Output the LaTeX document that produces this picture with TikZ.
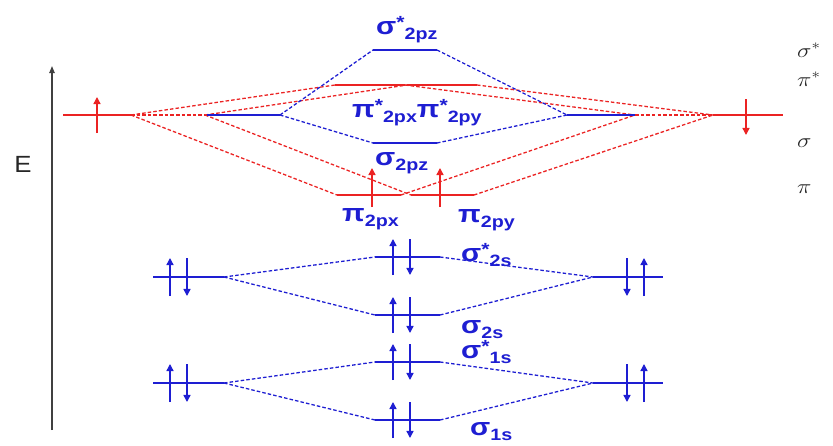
\documentclass[tikz,border=0pt]{standalone}
\usepackage{fontspec}
\setmainfont{Liberation Sans}
\usetikzlibrary{arrows.meta}
\definecolor{moblue}{RGB}{30,30,210}
\definecolor{mored}{RGB}{235,35,35}
\newcommand{\orb}[3]{\scalebox{1.2}[1]{{\fontsize{21}{21}\selectfont #1}\raisebox{5pt}{\fontsize{15}{15}\selectfont #2}\raisebox{-5pt}{\fontsize{14}{14}\selectfont #3}}}
\newcommand{\updown}[3]{\draw[spin] (#1,#2+#3) -- (#1,#2-#3); \draw[spin] (#1+17,#2-#3) -- (#1+17,#2+#3);}
\newcommand{\downup}[3]{\draw[spin] (#1,#2-#3) -- (#1,#2+#3); \draw[spin] (#1+17,#2+#3) -- (#1+17,#2-#3);}
\tikzset{
  level/.style={line width=1.3pt},
  cnx/.style={line width=1.1pt, dash pattern=on 3pt off 1.8pt},
  spin/.style={line width=1.2pt, -{Triangle[length=6pt,width=6pt]}},
  molab/.style={anchor=base west, inner sep=0pt, text=moblue, font=\bfseries},
  side/.style={anchor=base west, inner sep=0pt, text=black!85}
}
\begin{document}
\begin{tikzpicture}[x=0.03cm,y=-0.03cm]
\useasboundingbox (0,0) rectangle (833,446);
% energy axis
\coordinate (e0) at (52,430);
\coordinate (e1) at (52,66);
\draw[line width=1.3pt, black!75, -{Triangle[length=6pt,width=4.5pt]}] (e0) -- (e1);
\node[text=black!85] (E) at (23,164) {\scalebox{1.1}[1]{\fontsize{20}{20}\selectfont E}};

% 1s and 2s
\begin{scope}[moblue]
\foreach \k/\ya/\yu/\yd in {2s/277/257/315, 1s/383/362/420} {
  \coordinate (L\k-a) at (153,\ya); \coordinate (L\k-b) at (224,\ya);
  \coordinate (R\k-a) at (593,\ya); \coordinate (R\k-b) at (663,\ya);
  \coordinate (A\k-a) at (375,\yu); \coordinate (A\k-b) at (440,\yu);
  \coordinate (B\k-a) at (375,\yd); \coordinate (B\k-b) at (440,\yd);
  \draw[level] (L\k-a) -- (L\k-b);
  \draw[level] (R\k-a) -- (R\k-b);
  \draw[level] (A\k-a) -- (A\k-b);
  \draw[level] (B\k-a) -- (B\k-b);
  \draw[cnx] (L\k-b) -- (A\k-a);
  \draw[cnx] (L\k-b) -- (B\k-a);
  \draw[cnx] (A\k-b) -- (R\k-a);
  \draw[cnx] (B\k-b) -- (R\k-a);
  \updown{170}{\ya}{19}
  \downup{627}{\ya}{19}
  \updown{393}{\yu}{18}
  \updown{393}{\yd}{18}
}
\end{scope}

% 2p
\coordinate (pL0) at (63,115); \coordinate (pL1) at (131,115); \coordinate (pL2) at (205,115);
\coordinate (zL1) at (207,115); \coordinate (zL2) at (280,115);
\coordinate (zR2) at (567,115); \coordinate (zR1) at (635,115);
\coordinate (pR2) at (635,115); \coordinate (pR1) at (713,115); \coordinate (pR0) at (783,115);
\coordinate (zA-a) at (373,50); \coordinate (zA-b) at (437,50);
\coordinate (zB-a) at (373,143); \coordinate (zB-b) at (437,143);
\coordinate (xA-a) at (335,85); \coordinate (xA-b) at (405,85);
\coordinate (yA-a) at (407,85); \coordinate (yA-b) at (477,85);
\coordinate (xB-a) at (337,195); \coordinate (xB-b) at (401,195);
\coordinate (yB-a) at (411,195); \coordinate (yB-b) at (474,195);

\begin{scope}[mored]
\draw[level] (pL0) -- (pL1);
\draw[cnx] (pL1) -- (pL2);
\draw[level] (pR1) -- (pR0);
\draw[cnx] (pR2) -- (pR1);
\foreach \m in {A,B} {
  \draw[level] (x\m-a) -- (x\m-b);
  \draw[level] (y\m-a) -- (y\m-b);
  \draw[cnx] (pL1) -- (x\m-a);
  \draw[cnx] (pL2) -- (y\m-a);
  \draw[cnx] (x\m-b) -- (pR2);
  \draw[cnx] (y\m-b) -- (pR1);
}
\draw[spin] (97,133) -- (97,97);
\draw[spin] (746,99) -- (746,135);
\draw[spin] (372,207) -- (372,168);
\draw[spin] (440,207) -- (440,168);
\end{scope}

\begin{scope}[moblue]
\draw[level] (zL1) -- (zL2);
\draw[level] (zR2) -- (zR1);
\foreach \m in {A,B} {
  \draw[level] (z\m-a) -- (z\m-b);
  \draw[cnx] (zL2) -- (z\m-a);
  \draw[cnx] (z\m-b) -- (zR2);
}
\end{scope}

% labels
\node[molab] (t-zA) at (376,34) {\orb{σ}{*}{2pz}};
\node[molab] (t-pA) at (352,117) {\orb{π}{*}{2px}\orb{π}{*}{2py}};
\node[molab] (t-zB) at (375,165) {\orb{σ}{}{2pz}};
\node[molab] (t-xB) at (342,221) {\orb{π}{}{2px}};
\node[molab] (t-yB) at (458,222) {\orb{π}{}{2py}};
\node[molab] (t-2sA) at (461,261) {\orb{σ}{*}{2s}};
\node[molab] (t-2sB) at (461,333) {\orb{σ}{}{2s}};
\node[molab] (t-1sA) at (461,358) {\orb{σ}{*}{1s}};
\node[molab] (t-1sB) at (470,435) {\orb{σ}{}{1s}};

\node[side] (k-sA) at (797,57) {\scalebox{1.2}[1]{\fontsize{18}{18}\selectfont$\sigma^{*}$}};
\node[side] (k-pA) at (797,86) {\scalebox{1.2}[1]{\fontsize{18}{18}\selectfont$\pi^{*}$}};
\node[side] (k-s) at (797,147) {\scalebox{1.2}[1]{\fontsize{18}{18}\selectfont$\sigma$}};
\node[side] (k-p) at (797,193) {\scalebox{1.2}[1]{\fontsize{18}{18}\selectfont$\pi$}};
\end{tikzpicture}
\end{document}
